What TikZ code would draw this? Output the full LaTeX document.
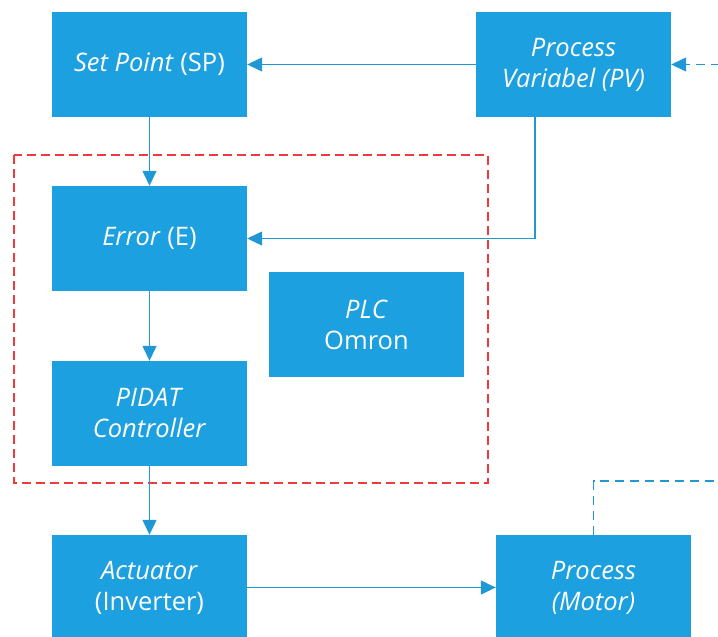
\documentclass[tikz,border=0pt]{standalone}
\usepackage{fontspec}
\setmainfont{Open Sans}
\usetikzlibrary{arrows.meta}
\definecolor{boxblue}{RGB}{29,160,223}
\definecolor{lineblue}{RGB}{32,152,214}
\definecolor{dashred}{RGB}{238,58,58}
\begin{document}
\begin{tikzpicture}[x=1pt,y=-1pt,
  blk/.style={rectangle,fill=boxblue,draw=none,minimum width=195pt,minimum height=105pt,inner sep=0pt,align=center,text=white,font=\fontsize{25.5}{31}\selectfont},
  conn/.style={draw=lineblue,line width=1.3pt,-{Triangle[length=15pt,width=14pt]}},
  dconn/.style={conn,dash pattern=on 9pt off 6pt}]
\useasboundingbox (0,0) rectangle (718,637);
\draw[dashred,line width=1.3pt,dash pattern=on 9pt off 5pt] (14,155) rectangle (488,483);
\node[blk] (sp) at (149.5,64.5) {\textit{Set Point} (SP)};
\node[blk] (pv) at (573.5,64.5) {\textit{Process}\\\textit{Variabel (PV)}};
\node[blk] (err) at (149.5,238.5) {\textit{Error} (E)};
\node[blk] (plc) at (366.5,324.5) {\textit{PLC}\\Omron};
\node[blk] (pid) at (149.5,413.5) {\textit{PIDAT}\\\textit{Controller}};
\node[blk] (act) at (149.5,587.5) {\textit{Actuator}\\(Inverter)};
\node[blk] (proc) at (593.5,587.5) {\textit{Process}\\\textit{(Motor)}};
\coordinate (inpv) at (720,64.5);
\coordinate (outr) at (720,481);
\draw[conn] (pv) -- (sp);
\draw[conn] (sp) -- (err);
\draw[conn] ([xshift=-38.5pt]pv.south) |- (err.east);
\draw[conn] (err) -- (pid);
\draw[conn] (pid) -- (act);
\draw[conn] (act) -- (proc);
\draw[dconn] (inpv) -- (pv.east);
\draw[dconn,-] (proc.north) |- (outr);
\end{tikzpicture}
\end{document}
